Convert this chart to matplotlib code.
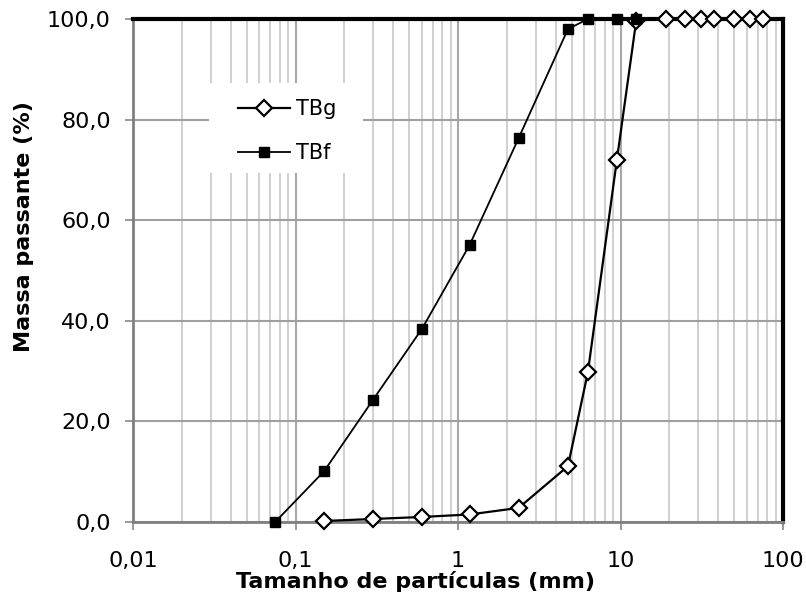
import matplotlib
matplotlib.use("Agg")
import matplotlib.pyplot as plt
from matplotlib.patches import Rectangle
from matplotlib.ticker import FixedLocator, LogLocator, NullFormatter, FuncFormatter

plt.rcParams['font.family'] = ['DejaVu Sans']

tbg_x = [0.15, 0.3, 0.6, 1.18, 2.36, 4.75, 6.3, 9.5, 12.5, 19, 25, 31.5, 37.5, 50, 63, 75]
tbg_y = [0.2, 0.6, 1.0, 1.5, 2.8, 11.1, 29.8, 72.0, 99.7, 100, 100, 100, 100, 100, 100, 100]
tbf_x = [0.075, 0.15, 0.3, 0.6, 1.18, 2.36, 4.75, 6.3, 9.5, 12.5]
tbf_y = [0.0, 10.1, 24.3, 38.4, 55.1, 76.3, 98.0, 100, 100, 100]

x_ticks = [0.01, 0.1, 1, 10, 100]
x_tick_labels = ["0,01", "0,1", "1", "10", "100"]
y_ticks = [0, 20, 40, 60, 80, 100]

W, H = 806, 599
L, R, T, B = 133, 783, 19, 522
fig = plt.figure(figsize=(W/100, H/100), dpi=100)
ax = fig.add_axes([L/W, 1-B/H, (R-L)/W, (B-T)/H])
ax.set_xscale('log')
ax.set_xlim(0.01, 100)
ax.set_ylim(0, 100)

def ax_x(px):
    return (px-L)/(R-L)

def ax_y(py):
    return (B-py)/(B-T)

ax.xaxis.set_major_locator(FixedLocator(x_ticks))
ax.set_xticklabels(x_tick_labels)
ax.xaxis.set_minor_locator(LogLocator(base=10, subs=range(2, 10), numticks=20))
ax.xaxis.set_minor_formatter(NullFormatter())
ax.set_yticks(y_ticks)
ax.yaxis.set_major_formatter(FuncFormatter(lambda v, p: f"{v:.1f}".replace('.', ',')))

ax.grid(True, which='minor', axis='x', color='#c8c8c8', lw=1.2)
ax.grid(True, which='major', axis='x', color='#a8a8a8', lw=1.5)
ax.grid(True, which='major', axis='y', color='#a0a0a0', lw=1.5)
ax.set_axisbelow(True)

ax.tick_params(axis='both', which='major', direction='out', length=6, color='#888888', width=1.2,
               labelsize=16)
ax.tick_params(axis='y', which='major', pad=10)
ax.tick_params(axis='x', which='major', pad=15)
ax.tick_params(axis='x', which='minor', length=0)

for s in ['left', 'bottom']:
    ax.spines[s].set_color('#808080')
    ax.spines[s].set_linewidth(2)
for s in ['top', 'right']:
    ax.spines[s].set_color('black')
    ax.spines[s].set_linewidth(3)

ax.plot(tbg_x, tbg_y, color='black', lw=1.6, marker='D', ms=8, mfc='white', mec='black', mew=1.6,
        label='TBg', zorder=3, clip_on=False)
ax.plot(tbf_x, tbf_y, color='black', lw=1.3, marker='s', ms=7, mfc='black', mec='black',
        label='TBf', zorder=4, clip_on=False)

ax.set_xlabel('Tamanho de partículas (mm)', fontsize=16, fontweight='bold')
ax.set_ylabel('Massa passante (%)', fontsize=16, fontweight='bold')
ax.xaxis.set_label_coords(ax_x(415), ax_y(571))
ax.yaxis.set_label_coords(ax_x(34), ax_y(227))

# white legend background box
ax.add_patch(Rectangle((ax_x(209), ax_y(173)), ax_x(363)-ax_x(209), ax_y(83)-ax_y(173),
                       transform=ax.transAxes, facecolor='white', edgecolor='none', zorder=1.5))

leg = ax.legend(loc='upper left', bbox_to_anchor=(ax_x(238), ax_y(99)),
                frameon=False, fontsize=15, handlelength=2.5, handletextpad=0.3,
                labelspacing=1.15, borderpad=0, borderaxespad=0)

fig.savefig('out.png', dpi=100)
